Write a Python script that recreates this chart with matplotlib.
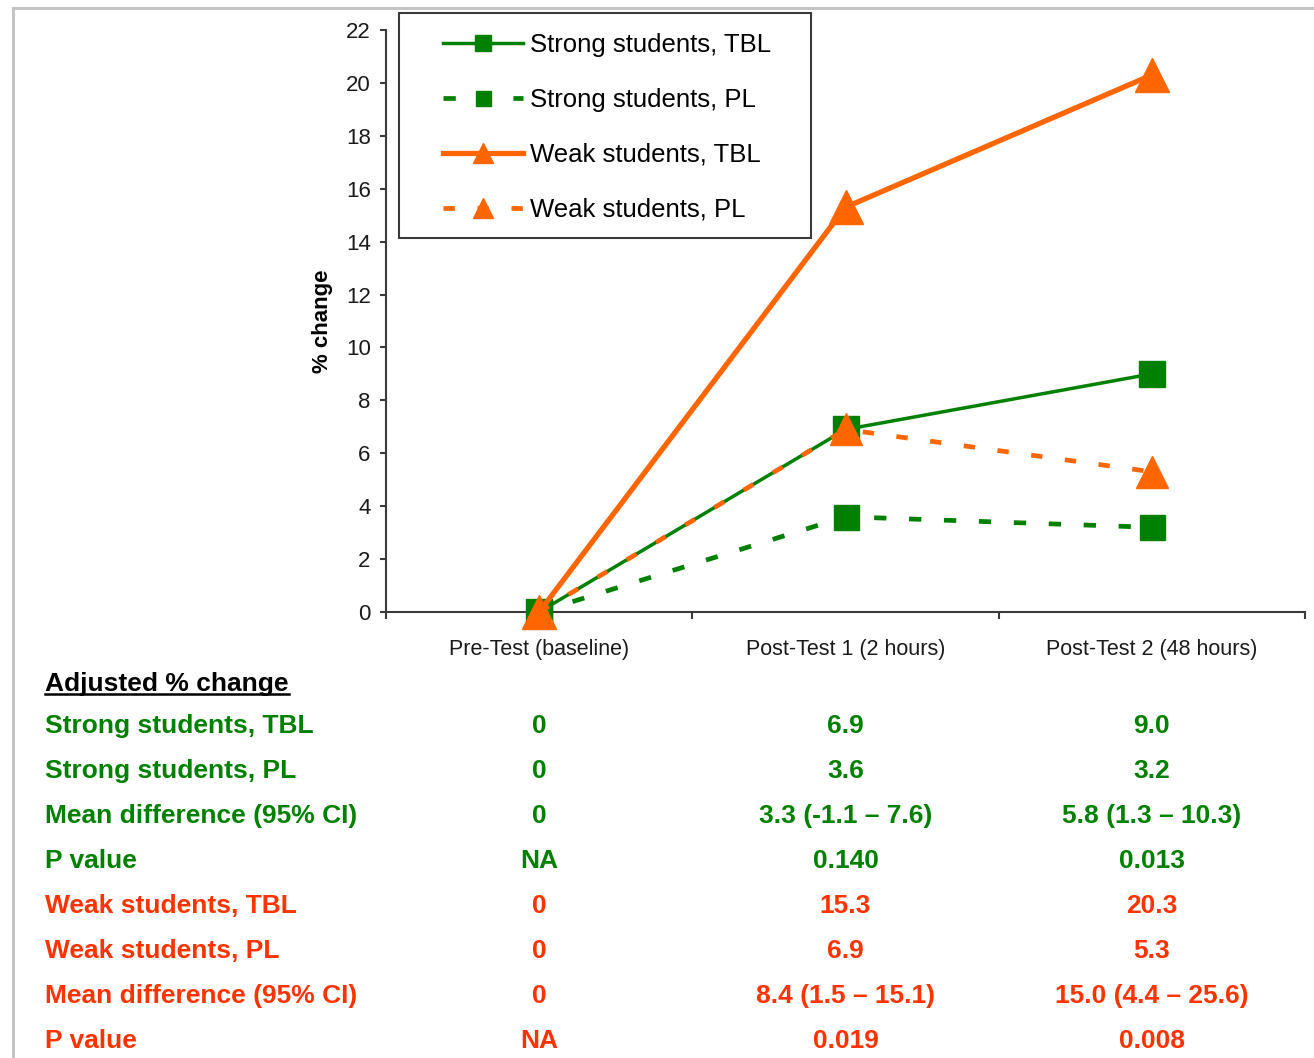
import matplotlib
matplotlib.use("Agg")
import matplotlib.pyplot as plt
import matplotlib.transforms as mtransforms
from matplotlib.lines import Line2D
from matplotlib.patches import Rectangle

plt.rcParams['font.family'] = ['Liberation Sans', 'DejaVu Sans']

# ---- data ----
categories = ["Pre-Test (baseline)", "Post-Test 1 (2 hours)", "Post-Test 2 (48 hours)"]
strong_tbl = [0, 6.9, 9.0]
strong_pl = [0, 3.6, 3.2]
weak_tbl = [0, 15.3, 20.3]
weak_pl = [0, 6.9, 5.3]

strong_diff = ["0", "3.3 (-1.1 \u2013 7.6)", "5.8 (1.3 \u2013 10.3)"]
strong_p = ["NA", "0.140", "0.013"]
weak_diff = ["0", "8.4 (1.5 \u2013 15.1)", "15.0 (4.4 \u2013 25.6)"]
weak_p = ["NA", "0.019", "0.008"]

GREEN = "#008000"
ORANGE = "#FF6600"
RED = "#FF3300"
AXC = "#3a3a3a"

W, H = 1314, 1058
fig = plt.figure(figsize=(W / 100, H / 100), dpi=100)
ax = fig.add_axes([386 / W, 1 - 612 / H, (1305 - 386) / W, (612 - 30) / H])

x = range(len(categories))
ax.plot(x, strong_pl, color=GREEN, lw=3.4, dashes=(2.6, 4.8), marker="s", ms=18,
        mec=GREEN, clip_on=False, zorder=3, label="Strong students, PL")
ax.plot(x, strong_tbl, color=GREEN, lw=2.5, marker="s", ms=19,
        mec=GREEN, clip_on=False, zorder=4, label="Strong students, TBL")
ax.plot(x, weak_pl, color=ORANGE, lw=3.4, dashes=(2.4, 4.8), marker="^", ms=23,
        mec=ORANGE, clip_on=False, zorder=5, label="Weak students, PL")
ax.plot(x, weak_tbl, color=ORANGE, lw=3.8, marker="^", ms=24,
        mec=ORANGE, clip_on=False, zorder=6, label="Weak students, TBL")

ax.set_xlim(-0.5, 2.5)
ax.set_ylim(0, 22)
ax.set_yticks(range(0, 23, 2))
ax.set_xticks(list(x), categories)
ax.set_xticks([-0.5, 0.5, 1.5, 2.5], minor=True)
ax.tick_params(axis="x", which="major", length=0, pad=19.5, labelsize=15.5, labelcolor="#1a1a1a")
ax.tick_params(axis="x", which="minor", length=5, width=1.5, color=AXC, direction="out")
ax.tick_params(axis="y", length=4, width=1.5, color=AXC, pad=7, labelsize=16, labelcolor="#1a1a1a")
for s in ["top", "right"]:
    ax.spines[s].set_visible(False)
for s in ["left", "bottom"]:
    ax.spines[s].set_color(AXC)
    ax.spines[s].set_linewidth(1.5)
ax.set_ylabel("% change", fontsize=16, fontweight="bold", labelpad=9)

# legend in the order of the series
hnd, lab = ax.get_legend_handles_labels()
order = [1, 0, 3, 2]
leg = fig.legend([hnd[i] for i in order], [lab[i] for i in order],
                 loc="upper left", bbox_to_anchor=(443 / W, 1 - 33 / H),
                 frameon=False, fontsize=18.5, borderpad=0, borderaxespad=0,
                 labelspacing=1.2, handlelength=3.1, handletextpad=0.3,
                 markerscale=0.6, numpoints=1)
fig.patches.append(Rectangle((399 / W, 1 - 238 / H), 412 / W, 225 / H,
                             transform=fig.transFigure, fill=False,
                             ec=AXC, lw=1.5, zorder=10))

# outer frame (top and left edges)
fig.add_artist(Line2D([13 / W, 1], [1 - 7.5 / H, 1 - 7.5 / H], color="#c4c4c4", lw=2.2))
fig.add_artist(Line2D([13 / W, 13 / W], [0, 1 - 7.5 / H], color="#c4c4c4", lw=2.2))

# ---- table of adjusted % change ----
def fmt(v):
    return "0" if v == 0 else f"{v:.1f}"

rows = [
    ("Strong students, TBL", [fmt(v) for v in strong_tbl], GREEN),
    ("Strong students, PL", [fmt(v) for v in strong_pl], GREEN),
    ("Mean difference (95% CI)", strong_diff, GREEN),
    ("P value", strong_p, GREEN),
    ("Weak students, TBL", [fmt(v) for v in weak_tbl], RED),
    ("Weak students, PL", [fmt(v) for v in weak_pl], RED),
    ("Mean difference (95% CI)", weak_diff, RED),
    ("P value", weak_p, RED),
]

col_tr = mtransforms.blended_transform_factory(ax.transData, fig.transFigure)
hdr = fig.text(45 / W, 1 - 684 / H, "Adjusted % change", fontsize=19,
               fontweight="bold", color="black", va="center", ha="left")
y0, dy = 726, 45
for i, (name, vals, c) in enumerate(rows):
    yy = 1 - (y0 + i * dy) / H
    fig.text(45 / W, yy, name, fontsize=19, fontweight="bold", color=c,
             va="center", ha="left")
    for j, v in enumerate(vals):
        fig.text(j, yy, v, transform=col_tr, fontsize=19, fontweight="bold",
                 color=c, va="center", ha="center")

# underline for the header
r = fig.canvas.get_renderer()
bb = hdr.get_window_extent(r)
inv = fig.transFigure.inverted()
(ux0, uy), (ux1, _) = inv.transform([(bb.x0, bb.y0 + 2), (bb.x1, bb.y0 + 2)])
fig.add_artist(Line2D([ux0, ux1], [uy, uy], color="black", lw=1.8))

fig.savefig("out.png", dpi=100)
